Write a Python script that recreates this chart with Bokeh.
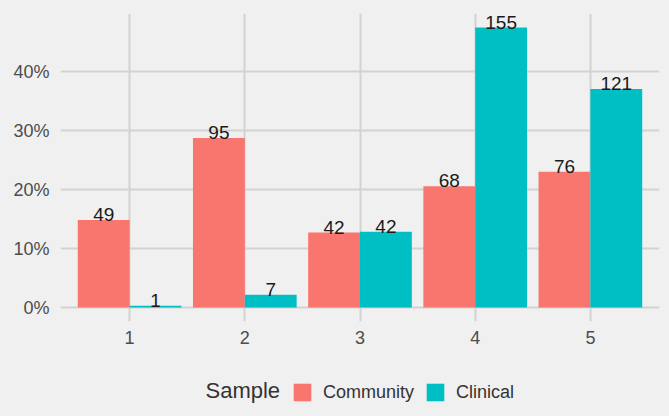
from bokeh.plotting import figure
from bokeh.layouts import column
from bokeh.models import ColumnDataSource, Range1d, FixedTicker, NumeralTickFormatter, Legend, LegendItem, Label
from bokeh.core.properties import value
from bokeh.embed import file_html
from bokeh.resources import INLINE

categories = [1, 2, 3, 4, 5]
community_counts = [49, 95, 42, 68, 76]
clinical_counts = [1, 7, 42, 155, 121]
y_ticks = [0.0, 0.1, 0.2, 0.3, 0.4]
series_names = ["Community", "Clinical"]
legend_title = "Sample"

COMM = "#F8766D"
CLIN = "#00BFC4"
BG = "#F0F0F0"
GRID = "#D2D2D2"
FONT = "Liberation Sans"

comm_total = sum(community_counts)
clin_total = sum(clinical_counts)
comm_src = ColumnDataSource(dict(
    x=[c - 0.225 for c in categories],
    top=[v / comm_total for v in community_counts],
    lab=[str(v) for v in community_counts],
))
clin_src = ColumnDataSource(dict(
    x=[c + 0.225 for c in categories],
    top=[v / clin_total for v in clinical_counts],
    lab=[str(v) for v in clinical_counts],
))

ymax = max(max(comm_src.data["top"]), max(clin_src.data["top"]))
pad = ymax * 0.05

p = figure(width=669, height=350, output_backend="svg", toolbar_location=None,
           x_range=Range1d(0.4, 5.6), y_range=Range1d(-pad, ymax + pad),
           min_border_left=60, min_border_right=10, min_border_top=13, min_border_bottom=29)
p.frame_align = False
p.background_fill_color = BG
p.border_fill_color = BG
p.outline_line_color = None

p.vbar(x="x", top="top", width=0.45, source=comm_src, fill_color=COMM, line_color=None)
p.vbar(x="x", top="top", width=0.45, source=clin_src, fill_color=CLIN, line_color=None)

for src in (comm_src, clin_src):
    p.text(x="x", y="top", text="lab", source=src, text_align="center", text_baseline="bottom",
           text_font=value(FONT), text_font_size="19px", text_color="#1A1A1A", y_offset=1)

p.xaxis.ticker = FixedTicker(ticks=categories)
p.yaxis.ticker = FixedTicker(ticks=y_ticks)
p.yaxis.formatter = NumeralTickFormatter(format="0%")
for ax in (p.xaxis, p.yaxis):
    ax.axis_line_color = None
    ax.major_tick_line_color = None
    ax.minor_tick_line_color = None
    ax.major_tick_out = 0
    ax.major_tick_in = 0
    ax.major_label_text_font = FONT
    ax.major_label_text_font_size = "18px"
    ax.major_label_text_color = "#4D4D4D"
p.yaxis.major_label_standoff = 11
p.xaxis.major_label_standoff = 9

p.xgrid.grid_line_color = GRID
p.ygrid.grid_line_color = GRID
p.xgrid.grid_line_width = 2
p.ygrid.grid_line_width = 2

# legend strip
lg = figure(width=669, height=66, output_backend="svg", toolbar_location=None,
            x_range=Range1d(0, 1), y_range=Range1d(0, 1), x_axis_type=None, y_axis_type=None,
            min_border_left=0, min_border_right=0, min_border_top=0, min_border_bottom=0)
lg.frame_align = False
lg.background_fill_color = BG
lg.border_fill_color = BG
lg.outline_line_color = None
lg.xgrid.visible = False
lg.ygrid.visible = False
k1 = lg.vbar(x="x", top="top", width=0.45, source=comm_src, fill_color=COMM, line_color=None, visible=False)
k2 = lg.vbar(x="x", top="top", width=0.45, source=clin_src, fill_color=CLIN, line_color=None, visible=False)

legend = Legend(items=[LegendItem(label=series_names[0], renderers=[k1]),
                       LegendItem(label=series_names[1], renderers=[k2])],
                orientation="horizontal", location=(291, 13))
legend.label_text_font = FONT
legend.label_text_font_size = "18px"
legend.label_text_color = "#333333"
legend.glyph_width = 22
legend.glyph_height = 22
legend.label_standoff = 10
legend.spacing = 10
legend.border_line_color = None
legend.background_fill_alpha = 0
legend.inactive_fill_alpha = 0
legend.padding = 0
legend.margin = 0
lg.add_layout(legend, "center")

title = Label(x=205, y=26, x_units="screen", y_units="screen", text=legend_title,
              text_font=FONT, text_font_size="22px", text_color="#333333",
              text_baseline="middle", text_align="left")
lg.add_layout(title)

layout = column(p, lg, spacing=0, styles={"background-color": BG})
open("out.html", "w").write(file_html(layout, INLINE))
